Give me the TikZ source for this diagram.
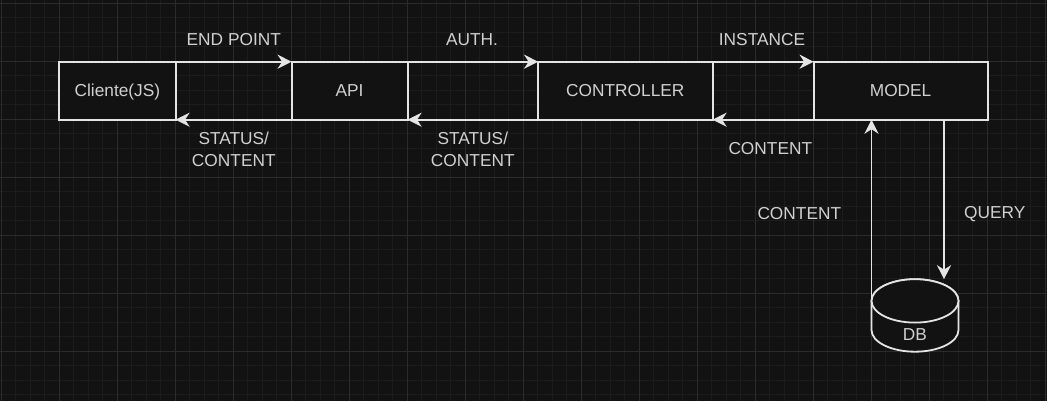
\documentclass[tikz,border=0pt]{standalone}
\usepackage{fontspec}
\setmainfont{Liberation Sans}
\usetikzlibrary{arrows.meta,calc}
\definecolor{bg}{HTML}{121212}
\definecolor{gridmin}{HTML}{1C1C1C}
\definecolor{gridmaj}{HTML}{2B2B2B}
\definecolor{ink}{HTML}{E4E4E4}
\definecolor{txt}{HTML}{D0D0D0}
\tikzset{
  x=1pt,y=-1pt,
  box/.style={draw=ink,fill=bg,line width=1.9pt,inner sep=0pt,outer sep=0pt,minimum height=58pt,anchor=north west,text=txt,text height=12.4pt,text depth=0pt,font=\fontsize{17.3}{19}\selectfont},
  lab/.style={text=txt,font=\fontsize{17.3}{21.7}\selectfont,align=center,inner sep=0pt},
  conn/.style={draw=ink,line width=1.9pt,-{Stealth[length=14pt,width=14pt,inset=4.5pt]}},
  dbline/.style={draw=ink,line width=1.8pt}
}
\begin{document}
\begin{tikzpicture}
\useasboundingbox (0,0) rectangle (1047,401);
\fill[bg] (0,0) rectangle (1047,401);
% grid
\foreach \i in {0,...,72} {\draw[gridmin,line width=0.7pt] ({1+14.5*\i},0) -- ({1+14.5*\i},401);}
\foreach \i in {0,...,28} {\draw[gridmin,line width=0.7pt] (0,{3+14.5*\i}) -- (1047,{3+14.5*\i});}
\foreach \i in {0,...,18} {\draw[gridmaj,line width=0.7pt] ({1+58*\i},0) -- ({1+58*\i},401);}
\foreach \i in {0,...,7} {\draw[gridmaj,line width=0.7pt] (0,{3+58*\i}) -- (1047,{3+58*\i});}
% boxes
\node[box,minimum width=116.4pt] (cli) at (59.2,61.7) {Cliente(JS)};
\node[box,minimum width=116pt] (api) at (291.6,61.7) {API};
\node[box,minimum width=174.5pt] (ctl) at (538.1,61.7) {CONTROLLER};
\node[box,minimum width=174pt] (mod) at (813.6,61.7) {MODEL};
% database
\node[inner sep=0pt,outer sep=0pt,minimum width=87pt,minimum height=72.5pt,anchor=north west] (db) at (871.5,279.2) {};
\coordinate (dbL) at ($(db.north west)+(0,21.7)$);
\coordinate (dbR) at ($(db.north east)+(0,21.7)$);
\coordinate (dbLb) at ($(db.south west)+(0,-21.7)$);
\coordinate (dbRb) at ($(db.south east)+(0,-21.7)$);
\draw[dbline,fill=bg] (dbL) arc[start angle=180,end angle=360,x radius=43.5pt,y radius=-21.7pt]
  -- (dbRb) arc[start angle=0,end angle=180,x radius=43.5pt,y radius=-21.7pt] -- cycle;
\draw[dbline,fill=bg] (dbL) arc[start angle=180,end angle=-180,x radius=43.5pt,y radius=-21.7pt];
\node[lab] (dbt) at (915,334.5) {DB};
% connectors
\draw[conn] (cli.north east) -- (api.north west);
\draw[conn] (api.south west) -- (cli.south east);
\draw[conn] (api.north east) -- (ctl.north west);
\draw[conn] (ctl.south west) -- (api.south east);
\draw[conn] (ctl.north east) -- (mod.north west);
\draw[conn] (mod.south west) -- (ctl.south east);
\coordinate (dbQ) at ($(db.north west)+(72.5,0)$);
\draw[conn] (mod.south -| dbQ) -- (dbQ);
\draw[conn] (dbL) -- (mod.south -| dbL);
% labels
\node[lab] (l1) at (233.8,39.8) {END POINT};
\node[lab] (l2) at (233.8,149.5) {STATUS/\\CONTENT};
\node[lab] (l3) at (472,39.8) {AUTH.};
\node[lab] (l4) at (472.8,149.5) {STATUS/\\CONTENT};
\node[lab] (l5) at (762,39.8) {INSTANCE};
\node[lab] (l6) at (770.3,149) {CONTENT};
\node[lab] (l7) at (799.3,214) {CONTENT};
\node[lab] (l8) at (994.8,214.5) {QUERY};
\end{tikzpicture}
\end{document}
